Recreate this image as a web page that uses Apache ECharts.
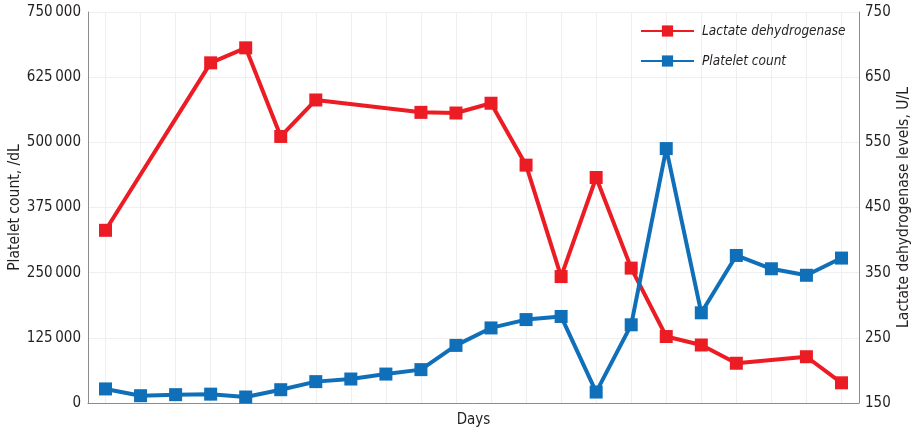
<!DOCTYPE html>
<html>
<head>
<meta charset="utf-8">
<script src="https://cdn.jsdelivr.net/npm/echarts@6/dist/echarts.min.js"></script>
<style>html,body{margin:0;padding:0;background:#fff}#c{width:919px;height:433px}</style>
</head>
<body>
<div id="c"></div>
<script>
const days = ['1','2','3','4','5','6','7','8','9','10','11','12','13','14','15','16','17','18','19','20','21','22'];
const ldh = [415, null, null, 672, 695, 559, 615, null, null, 596, 595, 610, 515, 344, 496, 357, 252, 239, 211, null, 221, 181];
const platelets = [27000, 14000, 16000, 17000, 11500, 25500, 41000, 46000, 55500, 64000, 110500, 144000, 160000, 166000, 21000, 150000, 488000, 173000, 283000, 257500, 245000, 278000];
const leftTicks = [0, 125000, 250000, 375000, 500000, 625000, 750000];
const rightTicks = [150, 250, 350, 450, 550, 650, 750];

const FONT = '"Liberation Sans Narrow", "DejaVu Sans Condensed", "Noto Sans", sans-serif';
const RED = '#EC1C24';
const BLUE = '#0F6FB8';
const fmt = v => String(v).replace(/\B(?=(\d{3})+(?!\d))/g, '\u2009');

const chart = echarts.init(document.getElementById('c'));
chart.setOption({
  animation: false,
  textStyle: { fontFamily: FONT },
  grid: { left: 88, right: 60, top: 12, bottom: 30, containLabel: false, outerBoundsMode: 'none' },
  legend: {
    orient: 'vertical', left: 635, top: 19,
    itemWidth: 53, itemHeight: 14, itemGap: 16,
    textStyle: { fontFamily: FONT, fontStyle: 'italic', fontSize: 13.5, color: '#231f20', padding: [0,0,0,3] },
    data: ['Lactate dehydrogenase', 'Platelet count']
  },
  xAxis: {
    type: 'category', data: days, boundaryGap: true,
    name: 'Days', nameLocation: 'middle', nameGap: 10, nameMoveOverlap: false,
    nameTextStyle: { fontFamily: FONT, fontSize: 15, color: '#231f20' },
    axisLine: { lineStyle: { color: '#8c8c8c', width: 1 } },
    axisTick: { show: false },
    axisLabel: { show: false },
    splitLine: { show: true, alignWithLabel: true, lineStyle: { color: '#efefef', width: 1 } }
  },
  yAxis: [{
    type: 'value', min: leftTicks[0], max: leftTicks[leftTicks.length-1], interval: 125000,
    name: 'Platelet count, /dL', nameLocation: 'middle', nameGap: 65, nameMoveOverlap: false,
    nameTextStyle: { fontFamily: FONT, fontSize: 15.5, color: '#231f20' },
    axisLine: { show: true, lineStyle: { color: '#8c8c8c' } },
    axisTick: { show: false },
    axisLabel: { formatter: fmt, fontSize: 15, color: '#231f20', margin: 7 },
    splitLine: { show: true, lineStyle: { color: '#efefef' } }
  }, {
    type: 'value', min: rightTicks[0], max: rightTicks[rightTicks.length-1], interval: 100,
    name: 'Lactate dehydrogenase levels, U/L', nameLocation: 'middle', nameGap: 37, nameMoveOverlap: false,
    nameTextStyle: { fontFamily: FONT, fontSize: 15.5, color: '#231f20' },
    axisLine: { show: true, lineStyle: { color: '#8c8c8c' } },
    axisTick: { show: false },
    axisLabel: { fontSize: 15, color: '#231f20', margin: 6 },
    splitLine: { show: false }
  }],
  series: [{
    name: 'Lactate dehydrogenase', type: 'line', yAxisIndex: 1, data: ldh, connectNulls: true,
    symbol: 'rect', symbolSize: 13, lineStyle: { color: RED, width: 4 }, itemStyle: { color: RED }
  }, {
    name: 'Platelet count', type: 'line', yAxisIndex: 0, data: platelets,
    symbol: 'rect', symbolSize: 13, lineStyle: { color: BLUE, width: 4 }, itemStyle: { color: BLUE }
  }]
});
</script>
</body>
</html>
